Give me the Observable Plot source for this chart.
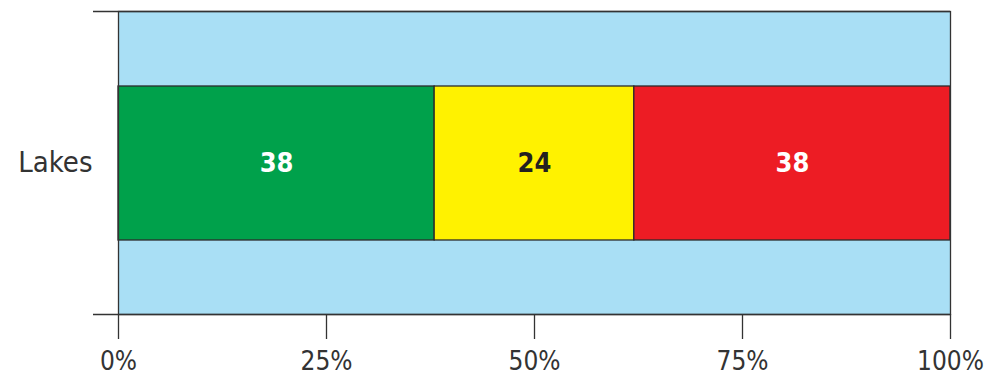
<!DOCTYPE html>
<html><head><meta charset="utf-8">
<script src="https://cdn.jsdelivr.net/npm/d3@7"></script>
<script src="https://cdn.jsdelivr.net/npm/@observablehq/plot@0.6"></script>
<style>
  body { margin: 0; background: #ffffff; }
  #chart svg { display: block; }
</style>
</head><body>
<div id="chart"></div>
<script>
const categories = ["Lakes"];
const segments = ["Good", "Fair", "Poor"];
const values = [38, 24, 38];
const segmentColors = ["#00a14b", "#fff200", "#ed1c24"];
const labelColors = ["#ffffff", "#231f20", "#ffffff"];
const xTicks = [0, 25, 50, 75, 100];

const data = segments.map((s, i) => ({
  category: categories[0],
  segment: s,
  value: values[i],
  color: segmentColors[i],
  labelColor: labelColors[i]
}));

const W = 994, H = 380;
const mTop = 11, mBottom = 66, mLeft = 118, mRight = 44;
const half = (H - mTop - mBottom) / 2;

const chart = Plot.plot({
  width: W,
  height: H,
  marginTop: mTop,
  marginBottom: mBottom,
  marginLeft: mLeft,
  marginRight: mRight,
  style: {
    fontFamily: "'DejaVu Sans Condensed', 'Liberation Sans Narrow', sans-serif",
    fontSize: "26px",
    color: "#333333",
    background: "#ffffff",
    overflow: "visible"
  },
  x: { domain: [0, 100] },
  y: { domain: categories, padding: 0 },
  marks: [
    Plot.frame({ fill: "#a9dff5", stroke: "none" }),
    Plot.barX(data, Plot.stackX({
      x: "value", y: "category", fill: "color",
      stroke: "#2b2b2b", strokeWidth: 1.3,
      insetTop: 75, insetBottom: 74
    })),
    Plot.text(data, Plot.stackX({
      x: "value", y: "category", text: d => String(d.value),
      fill: "labelColor", fontSize: 27, fontWeight: "bold"
    })),
    Plot.frame({ stroke: "#333333", strokeWidth: 1.3 }),
    Plot.ruleY(categories, { y: d => d, dy: -half, insetLeft: -25, stroke: "#333333", strokeWidth: 1.3 }),
    Plot.ruleY(categories, { y: d => d, dy: half, insetLeft: -25, stroke: "#333333", strokeWidth: 1.3 }),
    Plot.axisX({
      ticks: xTicks, tickSize: 25, tickPadding: 12,
      tickFormat: d => d + "%", fontSize: 26, label: null, strokeWidth: 1.3
    }),
    Plot.axisY({ tickSize: 0, tickPadding: 26, fontSize: 29, label: null })
  ]
});

document.getElementById("chart").appendChild(chart);
</script>
</body></html>
